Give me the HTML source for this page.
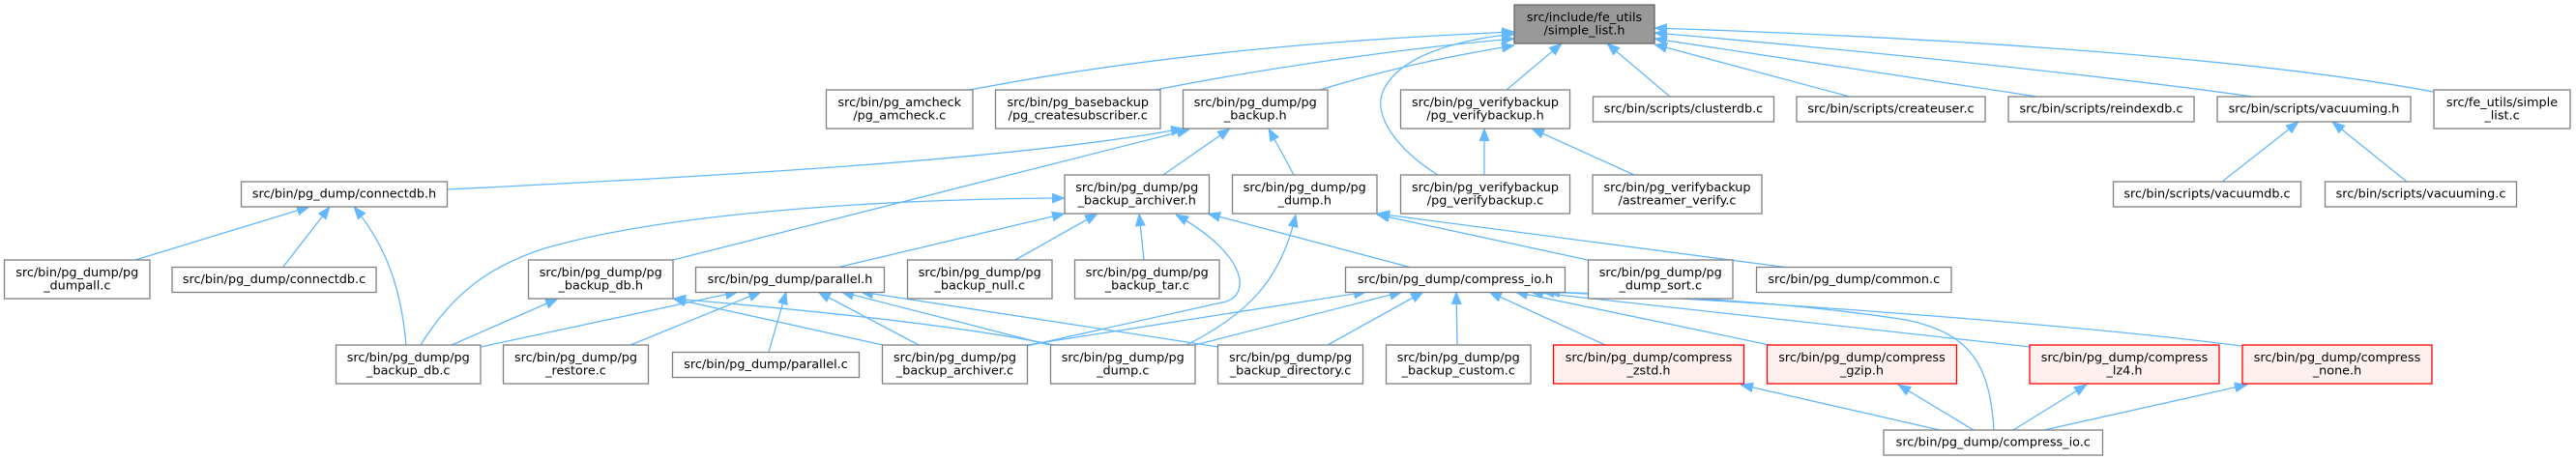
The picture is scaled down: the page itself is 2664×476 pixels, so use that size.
<!DOCTYPE html>
<html>
<head>
<meta charset="utf-8">
<style>
html,body{margin:0;padding:0;background:#fff;}
svg{display:block;}
text{font-family:"DejaVu Sans","Liberation Sans",sans-serif;font-size:12.8px;fill:#000;text-anchor:middle;}
.e{fill:none;stroke:#63b8ff;stroke-width:1.3;marker-end:url(#ah);}
.n{fill:#fff;stroke:#808080;stroke-width:1.3;}
.r{fill:#fff0f0;stroke:#ff0000;stroke-width:1.3;}
.g{fill:#999999;stroke:#666666;stroke-width:1.3;}
</style>
</head>
<body>
<svg width="2664" height="476" viewBox="0 0 2664 476" xmlns="http://www.w3.org/2000/svg">
<defs>
<marker id="ah" markerUnits="userSpaceOnUse" markerWidth="13" markerHeight="11" viewBox="0 0 13 11" refX="13" refY="5.5" orient="auto">
<path d="M0,0.5 L13,5.5 L0,10.5 z" fill="#63b8ff" stroke="#63b8ff" stroke-width="0.8"/>
</marker>
</defs>

<!-- edges to simple_list.h -->
<path class="e" d="M1003,93 C1200,55 1400,40 1566,33"/>
<path class="e" d="M1195,93 C1300,72 1450,50 1566,40"/>
<path class="e" d="M1365,93 C1440,70 1500,58 1566,47"/>
<path class="e" d="M1487,181 C1445,155 1420,120 1430,95 C1445,60 1500,42 1566,35"/>
<path class="e" d="M1558,93 L1615,45"/>
<path class="e" d="M1727,100 L1662,45"/>
<path class="e" d="M1913,100 L1711,46"/>
<path class="e" d="M2107,100 L1711,40"/>
<path class="e" d="M2330,100 C2150,75 1900,50 1711,34"/>
<path class="e" d="M2517,95 C2300,55 1950,37 1711,29"/>

<!-- verifybackup / vacuuming -->
<path class="e" d="M1535,181 L1535,133"/>
<path class="e" d="M1690,181 L1584,133"/>
<path class="e" d="M2298,188 L2377,126"/>
<path class="e" d="M2489,188 L2412,126"/>

<!-- to pg_backup.h -->
<path class="e" d="M462,196 C750,182 1050,165 1224,133"/>
<path class="e" d="M696,269 L1230,134"/>
<path class="e" d="M1203,181 L1272,133"/>
<path class="e" d="M1338,181 L1312,133"/>

<!-- to connectdb.h -->
<path class="e" d="M140,269 L320,214"/>
<path class="e" d="M293,276 L341,214"/>
<path class="e" d="M420,357 C415,300 400,255 366,214"/>

<!-- to pg_backup_archiver.h -->
<path class="e" d="M435,357 C470,300 510,275 560,258 C680,222 900,206 1101,205"/>
<path class="e" d="M865,277 L1101,221"/>
<path class="e" d="M1050,269 L1135,221"/>
<path class="e" d="M1183,269 L1178,221"/>
<path class="e" d="M1062,358 C1150,338 1240,318 1268,312 C1292,305 1292,265 1216,222"/>
<path class="e" d="M1460,277 L1249,221"/>

<!-- to pg_dump.h -->
<path class="e" d="M1227,357 C1290,325 1325,290 1340,222"/>
<path class="e" d="M1642,269 L1424,222"/>
<path class="e" d="M1850,277 L1424,221"/>

<!-- to parallel.h -->
<path class="e" d="M497,359 L763,302"/>
<path class="e" d="M652,357 L787,302"/>
<path class="e" d="M795,364 L813,302"/>
<path class="e" d="M950,357 L846,302"/>
<path class="e" d="M1085,357 L870,302"/>
<path class="e" d="M1260,359 L890,302"/>

<!-- to pg_backup_db.h -->
<path class="e" d="M467,357 L577,309"/>
<path class="e" d="M913,357 L696,309"/>
<path class="e" d="M1090,357 C1000,338 850,322 696,309"/>

<!-- to compress_io.h -->
<path class="e" d="M1062,357 L1413,302"/>
<path class="e" d="M1236,357 L1450,302"/>
<path class="e" d="M1373,357 L1472,302"/>
<path class="e" d="M1507,357 L1506,302"/>
<path class="e" d="M1660,357 L1540,302"/>
<path class="e" d="M1830,357 L1567,302"/>
<path class="e" d="M2100,359 L1583,302"/>
<path class="e" d="M2318,358 C2150,336 1800,310 1594,302"/>
<path class="e" d="M2062,445 C2058,380 2040,345 1971,331 C1850,312 1700,305 1600,302"/>

<!-- compress_io.c to compress_*.h -->
<path class="e" d="M2006,445 L1800,398"/>
<path class="e" d="M2041,445 L1963,398"/>
<path class="e" d="M2082,445 L2158,398"/>
<path class="e" d="M2114,445 L2324,398"/>

<!-- nodes -->
<rect class="g" x="1566" y="5" width="145" height="40"/>
<text x="1638.5" y="22">src/include/fe_utils</text><text x="1638.5" y="35.3">/simple_list.h</text>

<rect class="n" x="854.5" y="93" width="151.5" height="40"/>
<text x="930.25" y="110">src/bin/pg_amcheck</text><text x="930.25" y="123.3">/pg_amcheck.c</text>

<rect class="n" x="1029.5" y="93" width="170.5" height="40"/>
<text x="1114.75" y="110">src/bin/pg_basebackup</text><text x="1114.75" y="123.3">/pg_createsubscriber.c</text>

<rect class="n" x="1223.5" y="93" width="149.5" height="40"/>
<text x="1298.25" y="110">src/bin/pg_dump/pg</text><text x="1298.25" y="123.3">_backup.h</text>

<rect class="n" x="1448.5" y="93" width="175" height="40"/>
<text x="1536" y="110">src/bin/pg_verifybackup</text><text x="1536" y="123.3">/pg_verifybackup.h</text>

<rect class="n" x="1647.5" y="100" width="187" height="26"/>
<text x="1741" y="116.5">src/bin/scripts/clusterdb.c</text>

<rect class="n" x="1858" y="100" width="195" height="26"/>
<text x="1955.5" y="116.5">src/bin/scripts/createuser.c</text>

<rect class="n" x="2077" y="100" width="192" height="26"/>
<text x="2173" y="116.5">src/bin/scripts/reindexdb.c</text>

<rect class="n" x="2293" y="100" width="200" height="26"/>
<text x="2393" y="116.5">src/bin/scripts/vacuuming.h</text>

<rect class="n" x="2517" y="93" width="141" height="40"/>
<text x="2587.5" y="110">src/fe_utils/simple</text><text x="2587.5" y="123.3">_list.c</text>

<rect class="n" x="249.5" y="188" width="213" height="26"/>
<text x="356" y="204.5">src/bin/pg_dump/connectdb.h</text>

<rect class="n" x="1101" y="181" width="149.5" height="40"/>
<text x="1175.75" y="198">src/bin/pg_dump/pg</text><text x="1175.75" y="211.3">_backup_archiver.h</text>

<rect class="n" x="1274.5" y="181" width="149.5" height="40"/>
<text x="1349.25" y="198">src/bin/pg_dump/pg</text><text x="1349.25" y="211.3">_dump.h</text>

<rect class="n" x="1448.5" y="181" width="175" height="40"/>
<text x="1536" y="198">src/bin/pg_verifybackup</text><text x="1536" y="211.3">/pg_verifybackup.c</text>

<rect class="n" x="1647" y="181" width="175" height="40"/>
<text x="1734.5" y="198">src/bin/pg_verifybackup</text><text x="1734.5" y="211.3">/astreamer_verify.c</text>

<rect class="n" x="2185.5" y="188" width="194" height="26"/>
<text x="2282.5" y="204.5">src/bin/scripts/vacuumdb.c</text>

<rect class="n" x="2404.5" y="188" width="198" height="26"/>
<text x="2503.5" y="204.5">src/bin/scripts/vacuuming.c</text>

<rect class="n" x="4.5" y="269" width="150.5" height="40"/>
<text x="79.75" y="286">src/bin/pg_dump/pg</text><text x="79.75" y="299.3">_dumpall.c</text>

<rect class="n" x="178" y="276.5" width="211" height="26"/>
<text x="283.5" y="293">src/bin/pg_dump/connectdb.c</text>

<rect class="n" x="546.5" y="269" width="149.5" height="40"/>
<text x="621.25" y="286">src/bin/pg_dump/pg</text><text x="621.25" y="299.3">_backup_db.h</text>

<rect class="n" x="719.5" y="276.5" width="195" height="26"/>
<text x="817" y="293">src/bin/pg_dump/parallel.h</text>

<rect class="n" x="938.5" y="269" width="149.5" height="40"/>
<text x="1013.25" y="286">src/bin/pg_dump/pg</text><text x="1013.25" y="299.3">_backup_null.c</text>

<rect class="n" x="1111.5" y="269" width="149.5" height="40"/>
<text x="1186.25" y="286">src/bin/pg_dump/pg</text><text x="1186.25" y="299.3">_backup_tar.c</text>

<rect class="n" x="1391.5" y="276.5" width="227" height="26"/>
<text x="1505" y="293">src/bin/pg_dump/compress_io.h</text>

<rect class="n" x="1642.5" y="269" width="149.5" height="40"/>
<text x="1717.25" y="286">src/bin/pg_dump/pg</text><text x="1717.25" y="299.3">_dump_sort.c</text>

<rect class="n" x="1816.5" y="276.5" width="201.5" height="26"/>
<text x="1917.25" y="293">src/bin/pg_dump/common.c</text>

<rect class="n" x="347.5" y="357" width="149.5" height="40"/>
<text x="422.25" y="374">src/bin/pg_dump/pg</text><text x="422.25" y="387.3">_backup_db.c</text>

<rect class="n" x="520.5" y="357" width="150" height="40"/>
<text x="595.5" y="374">src/bin/pg_dump/pg</text><text x="595.5" y="387.3">_restore.c</text>

<rect class="n" x="695.5" y="364.5" width="193" height="26"/>
<text x="792" y="381">src/bin/pg_dump/parallel.c</text>

<rect class="n" x="912.5" y="357" width="150" height="40"/>
<text x="987.5" y="374">src/bin/pg_dump/pg</text><text x="987.5" y="387.3">_backup_archiver.c</text>

<rect class="n" x="1086.5" y="357" width="149.5" height="40"/>
<text x="1161.25" y="374">src/bin/pg_dump/pg</text><text x="1161.25" y="387.3">_dump.c</text>

<rect class="n" x="1259.5" y="357" width="150" height="40"/>
<text x="1334.5" y="374">src/bin/pg_dump/pg</text><text x="1334.5" y="387.3">_backup_directory.c</text>

<rect class="n" x="1433.5" y="357" width="149.5" height="40"/>
<text x="1508.25" y="374">src/bin/pg_dump/pg</text><text x="1508.25" y="387.3">_backup_custom.c</text>

<rect class="r" x="1606.5" y="357" width="197" height="40"/>
<text x="1705" y="374">src/bin/pg_dump/compress</text><text x="1705" y="387.3">_zstd.h</text>

<rect class="r" x="1827.5" y="357" width="196" height="40"/>
<text x="1925.5" y="374">src/bin/pg_dump/compress</text><text x="1925.5" y="387.3">_gzip.h</text>

<rect class="r" x="2099" y="357" width="196" height="40"/>
<text x="2197" y="374">src/bin/pg_dump/compress</text><text x="2197" y="387.3">_lz4.h</text>

<rect class="r" x="2319" y="357" width="196" height="40"/>
<text x="2417" y="374">src/bin/pg_dump/compress</text><text x="2417" y="387.3">_none.h</text>

<rect class="n" x="1948" y="445" width="226.5" height="26"/>
<text x="2061.25" y="461.5">src/bin/pg_dump/compress_io.c</text>
</svg>
</body>
</html>
